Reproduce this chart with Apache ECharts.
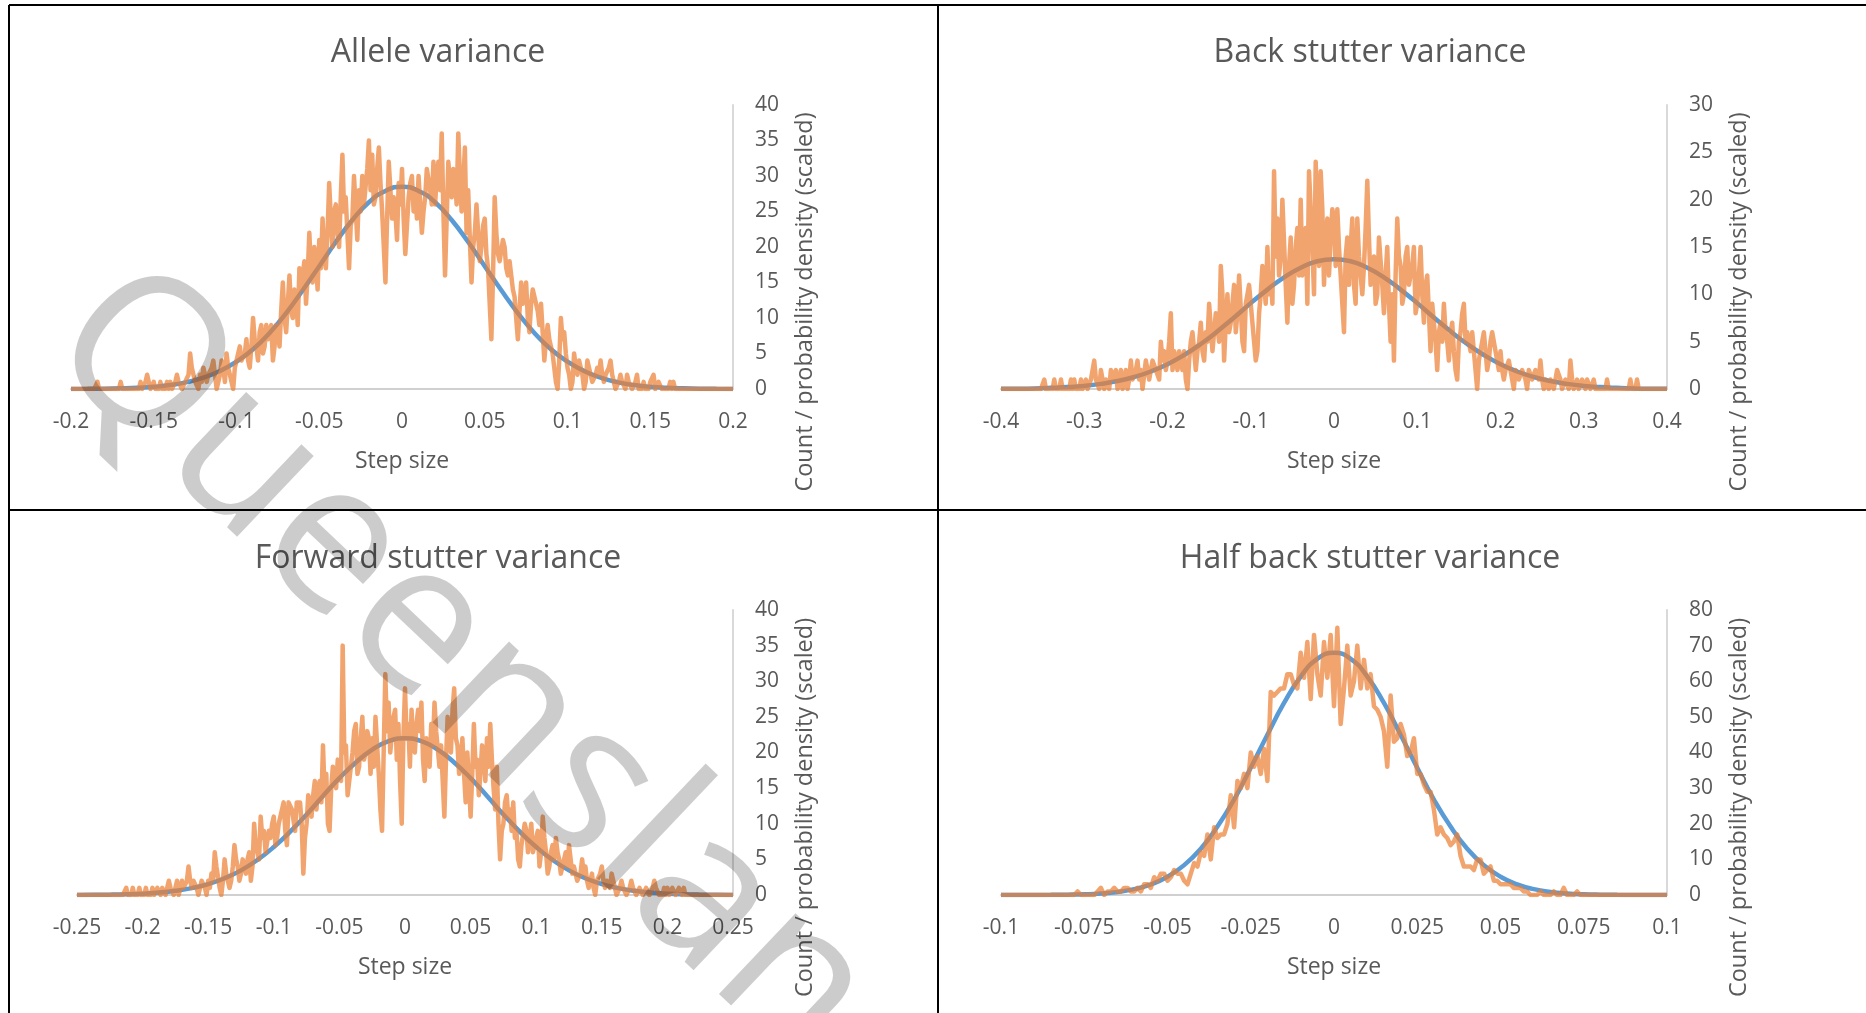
<!DOCTYPE html>
<html>
<head>
<meta charset="utf-8">
<title>Step size variance</title>
<script src="https://cdn.jsdelivr.net/npm/echarts@6/dist/echarts.min.js"></script>
<style>
    html, body { margin: 0; padding: 0; background: #fff; }
    #chart { width: 1866px; height: 1013px; }
</style>
</head>
<body>
<div id="chart"></div>
<script>
    // chart titles
    var panelTitles = ['Allele variance', 'Back stutter variance', 'Forward stutter variance', 'Half back stutter variance'];

    // x axis ranges / tick steps
    var xMins = [-0.2, -0.4, -0.25, -0.1];
    var xMaxs = [0.2, 0.4, 0.25, 0.1];
    var xTickSteps = [0.05, 0.1, 0.05, 0.025];

    // y axis ranges / tick steps
    var yMaxs = [40, 30, 40, 80];
    var yTickSteps = [5, 5, 5, 10];

    // histogram bins (orange): first bin and bin width
    var countStarts = [-0.2, -0.4, -0.25, -0.1];
    var countSteps = [0.001, 0.002, 0.00125, 0.001];

    var alleleCounts = [
        0, 0, 0, 0, 0, 0, 0, 0, 0, 0, 0, 0, 0, 0, 0, 0, 1, 0, 0, 0,
        0, 0, 0, 0, 0, 0, 0, 0, 0, 0, 1, 0, 0, 0, 0, 0, 0, 0, 0, 0,
        0, 0, 1, 0, 0, 1, 2, 1, 0, 0, 1, 0, 0, 0, 1, 0, 0, 0, 1, 0,
        1, 0, 0, 1, 2, 1, 1, 0, 0, 1, 1, 2, 5, 3, 2, 1, 1, 0, 2, 1,
        3, 2, 1, 2, 2, 3, 4, 2, 0, 1, 2, 4, 3, 1, 5, 3, 2, 1, 0, 3,
        3, 5, 6, 4, 4, 5, 7, 4, 3, 6, 10, 7, 6, 4, 8, 9, 5, 6, 9, 7,
        7, 9, 4, 6, 9, 8, 6, 11, 15, 10, 8, 12, 16, 11, 10, 14, 13, 9, 17, 14,
        14, 18, 12, 16, 22, 17, 15, 20, 18, 14, 21, 17, 24, 19, 17, 22, 29, 24, 20, 25,
        26, 22, 20, 27, 33, 25, 27, 22, 17, 23, 24, 30, 30, 21, 28, 25, 30, 26, 26, 31,
        35, 28, 33, 26, 27, 31, 34, 29, 25, 20, 15, 24, 32, 28, 24, 27, 25, 21, 29, 26,
        31, 24, 19, 23, 27, 29, 30, 25, 28, 24, 30, 26, 22, 25, 27, 31, 31, 28, 26, 32,
        26, 30, 32, 28, 36, 25, 16, 24, 32, 29, 27, 31, 30, 26, 36, 30, 25, 29, 34, 22,
        28, 21, 15, 20, 22, 26, 26, 18, 20, 23, 24, 19, 17, 12, 7, 16, 27, 22, 19, 18,
        18, 21, 20, 17, 16, 18, 18, 14, 13, 10, 7, 11, 15, 12, 13, 15, 10, 8, 12, 14,
        14, 12, 11, 9, 12, 8, 4, 7, 9, 7, 6, 5, 3, 1, 0, 4, 10, 7, 8, 5,
        3, 2, 0, 1, 5, 3, 2, 4, 4, 2, 0, 1, 4, 3, 2, 1, 1, 2, 3, 2,
        4, 2, 1, 2, 2, 3, 4, 2, 1, 0, 0, 1, 2, 1, 1, 0, 2, 1, 1, 0,
        0, 1, 2, 0, 0, 0, 1, 0, 0, 0, 1, 1, 2, 0, 0, 1, 1, 0, 0, 0,
        0, 0, 1, 0, 1, 0, 0, 0, 0, 0, 0, 0, 0, 0, 0, 0, 0, 0, 0, 0,
        0, 0, 0, 0, 0, 0, 0, 0, 0, 0, 0, 0, 0, 0, 0, 0, 0, 0, 0, 0,
        0
    ];

    var backCounts = [
        0, 0, 0, 0, 0, 0, 0, 0, 0, 0, 0, 0, 0, 0, 0, 0, 0, 0, 0, 0,
        0, 0, 0, 0, 0, 0, 1, 0, 0, 0, 0, 0, 1, 0, 0, 0, 1, 0, 0, 0,
        0, 0, 1, 0, 1, 0, 0, 0, 1, 0, 0, 1, 0, 0, 1, 2, 3, 1, 1, 0,
        2, 1, 0, 1, 1, 0, 2, 1, 1, 2, 0, 1, 2, 0, 1, 2, 0, 1, 3, 1,
        1, 2, 3, 1, 2, 0, 0, 3, 3, 1, 1, 3, 3, 2, 2, 1, 5, 3, 4, 2,
        3, 5, 8, 2, 4, 3, 2, 4, 3, 2, 4, 1, 0, 3, 5, 6, 6, 2, 4, 5,
        7, 4, 3, 6, 5, 9, 9, 4, 6, 8, 8, 5, 13, 10, 3, 7, 10, 6, 7, 9,
        11, 6, 8, 12, 12, 5, 4, 9, 9, 11, 11, 7, 5, 3, 4, 8, 10, 13, 13, 9,
        15, 10, 12, 9, 23, 14, 18, 12, 14, 20, 20, 11, 7, 13, 16, 9, 11, 15, 17, 12,
        20, 12, 14, 17, 9, 23, 23, 15, 10, 24, 24, 13, 23, 19, 11, 16, 18, 12, 16, 19,
        18, 13, 19, 15, 12, 9, 6, 14, 16, 11, 15, 18, 11, 9, 18, 14, 14, 10, 13, 17,
        22, 16, 11, 13, 14, 9, 10, 16, 16, 11, 8, 12, 15, 9, 5, 10, 3, 12, 18, 14,
        13, 9, 10, 14, 15, 11, 12, 13, 15, 8, 9, 12, 15, 10, 7, 11, 12, 8, 4, 9,
        9, 5, 2, 6, 7, 5, 9, 6, 5, 3, 6, 7, 4, 2, 1, 5, 6, 8, 9, 5,
        6, 5, 4, 6, 6, 2, 0, 3, 3, 5, 6, 4, 2, 3, 5, 6, 6, 4, 3, 2,
        4, 2, 1, 2, 2, 3, 3, 1, 0, 2, 2, 1, 1, 2, 2, 1, 0, 2, 2, 1,
        1, 2, 2, 1, 3, 1, 0, 1, 1, 0, 1, 1, 0, 1, 2, 2, 1, 0, 0, 1,
        1, 0, 3, 1, 0, 0, 1, 0, 0, 1, 1, 0, 1, 1, 0, 0, 1, 0, 0, 0,
        0, 0, 0, 0, 1, 0, 0, 0, 0, 0, 0, 0, 0, 0, 0, 0, 0, 0, 1, 0,
        0, 0, 1, 0, 0, 0, 0, 0, 0, 0, 0, 0, 0, 0, 0, 0, 0, 0, 0, 0,
        0
    ];

    var forwardCounts = [
        0, 0, 0, 0, 0, 0, 0, 0, 0, 0, 0, 0, 0, 0, 0, 0, 0, 0, 0, 0,
        0, 0, 0, 0, 0, 0, 0, 0, 0, 0, 1, 0, 0, 0, 1, 0, 0, 0, 1, 0,
        0, 0, 1, 0, 0, 0, 1, 0, 0, 1, 1, 0, 1, 1, 0, 1, 2, 1, 1, 0,
        1, 2, 0, 1, 2, 1, 1, 2, 4, 2, 1, 2, 2, 1, 0, 1, 2, 2, 1, 0,
        2, 1, 3, 2, 6, 4, 4, 1, 0, 2, 5, 3, 3, 1, 2, 4, 7, 5, 4, 2,
        3, 5, 4, 3, 5, 6, 2, 4, 10, 7, 6, 5, 11, 8, 9, 6, 6, 9, 8, 10,
        11, 7, 8, 10, 10, 12, 13, 9, 7, 13, 13, 12, 12, 9, 13, 13, 13, 10, 3, 8,
        10, 14, 13, 11, 14, 16, 12, 15, 16, 13, 21, 14, 17, 10, 9, 15, 18, 16, 15, 19,
        19, 16, 35, 20, 21, 14, 14, 18, 20, 23, 24, 17, 18, 22, 25, 19, 20, 23, 22, 17,
        22, 18, 25, 21, 17, 12, 9, 20, 31, 23, 27, 20, 20, 25, 26, 19, 24, 16, 10, 22,
        29, 22, 24, 18, 26, 21, 20, 24, 26, 23, 27, 19, 16, 22, 22, 18, 24, 21, 27, 23,
        23, 18, 21, 16, 11, 19, 25, 22, 20, 26, 29, 22, 21, 17, 18, 22, 17, 13, 20, 16,
        11, 17, 24, 18, 19, 14, 17, 21, 20, 16, 22, 18, 24, 19, 15, 12, 18, 10, 5, 9,
        10, 13, 14, 11, 12, 9, 13, 8, 9, 5, 4, 7, 7, 10, 9, 6, 8, 10, 6, 7,
        7, 9, 4, 6, 11, 8, 6, 3, 4, 6, 7, 5, 8, 6, 5, 3, 3, 5, 6, 4,
        7, 5, 3, 4, 4, 2, 2, 3, 5, 3, 4, 2, 1, 2, 3, 1, 0, 2, 2, 3,
        4, 2, 1, 2, 2, 1, 3, 2, 1, 0, 0, 1, 2, 1, 1, 0, 0, 1, 2, 1,
        1, 0, 0, 1, 1, 0, 0, 1, 1, 0, 0, 1, 2, 1, 1, 0, 0, 0, 1, 0,
        1, 0, 0, 1, 1, 0, 0, 1, 1, 0, 1, 0, 0, 0, 0, 0, 0, 0, 0, 0,
        0, 0, 0, 0, 0, 0, 0, 0, 0, 0, 0, 0, 0, 0, 0, 0, 0, 0, 0, 0,
        0
    ];

    var halfBackCounts = [
        0, 0, 0, 0, 0, 0, 0, 0, 0, 0,
        0, 0, 0, 0, 0, 0, 0, 0, 0, 0,
        0, 0, 0, 1, 0, 0, 0, 0, 0, 1,
        2, 0, 1, 1, 2, 1, 1, 2, 2, 1,
        1, 2, 1, 3, 3, 2, 5, 4, 6, 6,
        4, 5, 7, 6, 6, 4, 3, 6, 9, 8,
        12, 11, 17, 10, 19, 16, 17, 17, 20, 28,
        19, 32, 30, 34, 30, 40, 36, 39, 34, 41,
        32, 57, 56, 57, 58, 58, 62, 62, 59, 58,
        68, 61, 71, 55, 73, 62, 56, 71, 61, 73,
        53, 75, 48, 58, 70, 56, 60, 70, 58, 66,
        58, 62, 53, 52, 50, 46, 36, 56, 43, 44,
        48, 45, 39, 40, 44, 34, 34, 31, 29, 29,
        24, 17, 19, 17, 16, 14, 15, 17, 11, 8,
        8, 8, 7, 10, 10, 6, 7, 8, 4, 4,
        3, 3, 3, 3, 2, 2, 2, 1, 1, 0,
        0, 0, 1, 0, 0, 0, 1, 0, 0, 2,
        0, 0, 0, 1, 0, 0, 0, 0, 0, 0,
        0, 0, 0, 0, 0, 0, 0, 0, 0, 0,
        0, 0, 0, 0, 0, 0, 0, 0, 0, 0,
        0
    ];

    // fitted density (blue): first point and spacing
    var densityStarts = [-0.2, -0.4, -0.25, -0.1];
    var densitySteps = [0.01, 0.02, 0.0125, 0.005];

    var alleleDensity = [
        0.01, 0.02, 0.04, 0.09, 0.17, 0.32, 0.56, 0.97, 1.6, 2.54,
        3.86, 5.6, 7.9, 10.7, 13.9, 17.3, 20.7, 23.8, 26.3, 27.9,
        28.5,
        27.9, 26.3, 23.8, 20.7, 17.3, 13.9, 10.7, 7.9, 5.6, 3.86,
        2.54, 1.6, 0.97, 0.56, 0.32, 0.17, 0.09, 0.04, 0.02, 0.01
    ];
    var backDensity = [
        0.02, 0.03, 0.06, 0.12, 0.2, 0.33, 0.54, 0.84, 1.27, 1.85,
        2.62, 3.59, 4.75, 6.1, 7.55, 9.07, 10.5, 11.8, 12.8, 13.5,
        13.7,
        13.5, 12.8, 11.8, 10.5, 9.07, 7.55, 6.1, 4.75, 3.59, 2.62,
        1.85, 1.27, 0.84, 0.54, 0.33, 0.2, 0.12, 0.06, 0.03, 0.02
    ];
    var forwardDensity = [
        0.01, 0.03, 0.05, 0.1, 0.19, 0.34, 0.59, 0.97, 1.53, 2.35,
        3.46, 4.92, 6.74, 8.89, 11.3, 13.9, 16.4, 18.6, 20.4, 21.6,
        22.0,
        21.6, 20.4, 18.6, 16.4, 13.9, 11.3, 8.89, 6.74, 4.92, 3.46,
        2.35, 1.53, 0.97, 0.59, 0.34, 0.19, 0.1, 0.05, 0.03, 0.01
    ];
    var halfBackDensity = [
        0, 0.01, 0.02, 0.04, 0.09, 0.2, 0.43, 0.87, 1.65, 2.99,
        5.14, 8.39, 13.0, 19.2, 26.8, 35.7, 45.0, 53.9, 61.3, 66.3,
        68.0,
        66.3, 61.3, 53.9, 45.0, 35.7, 26.8, 19.2, 13.0, 8.39, 5.14,
        2.99, 1.65, 0.87, 0.43, 0.2, 0.09, 0.04, 0.02, 0.01, 0
    ];

    var countSets = [alleleCounts, backCounts, forwardCounts, halfBackCounts];
    var densitySets = [alleleDensity, backDensity, forwardDensity, halfBackDensity];

    var xName = 'Step size';
    var yName = 'Count / probability density (scaled)';
    var watermark = 'Queensland';

    var textColor = '#595959';
    var font = "'Open Sans', sans-serif";

    // plot areas, in page pixels
    var grids = [
        { left: 71, top: 105, width: 662, height: 284 },
        { left: 1001, top: 105, width: 666, height: 284 },
        { left: 77, top: 610, width: 656, height: 285 },
        { left: 1001, top: 610, width: 666, height: 285 }
    ];
    var titlePos = [[438, 37], [1370, 37], [438, 543], [1370, 543]];

    function toPairs(start, step, values) {
        return values.map(function (v, i) {
            return [+(start + step * i).toFixed(5), v];
        });
    }

    var option = {
        animation: false,
        backgroundColor: '#ffffff',
        title: [],
        grid: [],
        xAxis: [],
        yAxis: [],
        series: [],
        graphic: []
    };

    for (var p = 0; p < 4; p++) {
        option.title.push({
            text: panelTitles[p],
            left: titlePos[p][0],
            top: titlePos[p][1],
            textAlign: 'center',
            padding: 0,
            textStyle: { color: textColor, fontSize: 32, fontWeight: 'normal', fontFamily: font }
        });
        option.grid.push(grids[p]);
        option.xAxis.push({
            type: 'value',
            gridIndex: p,
            min: xMins[p],
            max: xMaxs[p],
            interval: xTickSteps[p],
            axisLine: { show: true, onZero: false, lineStyle: { color: '#D0D0D0', width: 2 } },
            axisTick: { show: false },
            splitLine: { show: false },
            axisLabel: { color: textColor, fontSize: 21, margin: 23, fontFamily: font },
            name: xName,
            nameLocation: 'middle',
            nameGap: 61,
            nameTextStyle: { color: textColor, fontSize: 23, fontFamily: font }
        });
        option.yAxis.push({
            type: 'value',
            gridIndex: p,
            position: 'right',
            min: 0,
            max: yMaxs[p],
            interval: yTickSteps[p],
            axisLine: { show: true, onZero: false, lineStyle: { color: '#D9D9D9', width: 2 } },
            axisTick: { show: false },
            splitLine: { show: false },
            axisLabel: { color: textColor, fontSize: 21, margin: 22, fontFamily: font },
            name: yName,
            nameLocation: 'middle',
            nameRotate: 90,
            nameGap: 60,
            nameTextStyle: { color: textColor, fontSize: 23.5, fontFamily: font, padding: [0, 110, 0, 0] }
        });
        // fitted curve underneath
        option.series.push({
            type: 'line',
            xAxisIndex: p,
            yAxisIndex: p,
            data: toPairs(densityStarts[p], densitySteps[p], densitySets[p]),
            smooth: true,
            showSymbol: false,
            lineStyle: { color: '#5B9BD5', width: 4.5 },
            z: 2
        });
        // histogram on top, see-through
        option.series.push({
            type: 'line',
            xAxisIndex: p,
            yAxisIndex: p,
            data: toPairs(countStarts[p], countSteps[p], countSets[p]),
            showSymbol: false,
            lineStyle: { color: '#ED7D31', width: 4.5, opacity: 0.7, join: 'round' },
            z: 3
        });
    }

    // table borders
    var borderLines = [
        [9, 5, 1866, 5],
        [9, 510, 1866, 510],
        [9, 5, 9, 1013],
        [938, 5, 938, 1013]
    ];
    borderLines.forEach(function (l) {
        option.graphic.push({
            type: 'line',
            shape: { x1: l[0], y1: l[1], x2: l[2], y2: l[3] },
            style: { stroke: '#000', lineWidth: 2 },
            z: 50
        });
    });

    // watermark
    option.graphic.push({
        type: 'text',
        x: 81,
        y: 307,
        rotation: -43.5 * Math.PI / 180,
        style: {
            text: watermark,
            font: "208px 'Open Sans', sans-serif",
            fill: 'rgba(0,0,0,0.2)',
            textAlign: 'left',
            textVerticalAlign: 'middle'
        },
        z: 100
    });

    var myChart = echarts.init(document.getElementById('chart'));
    myChart.setOption(option);
</script>
</body>
</html>
